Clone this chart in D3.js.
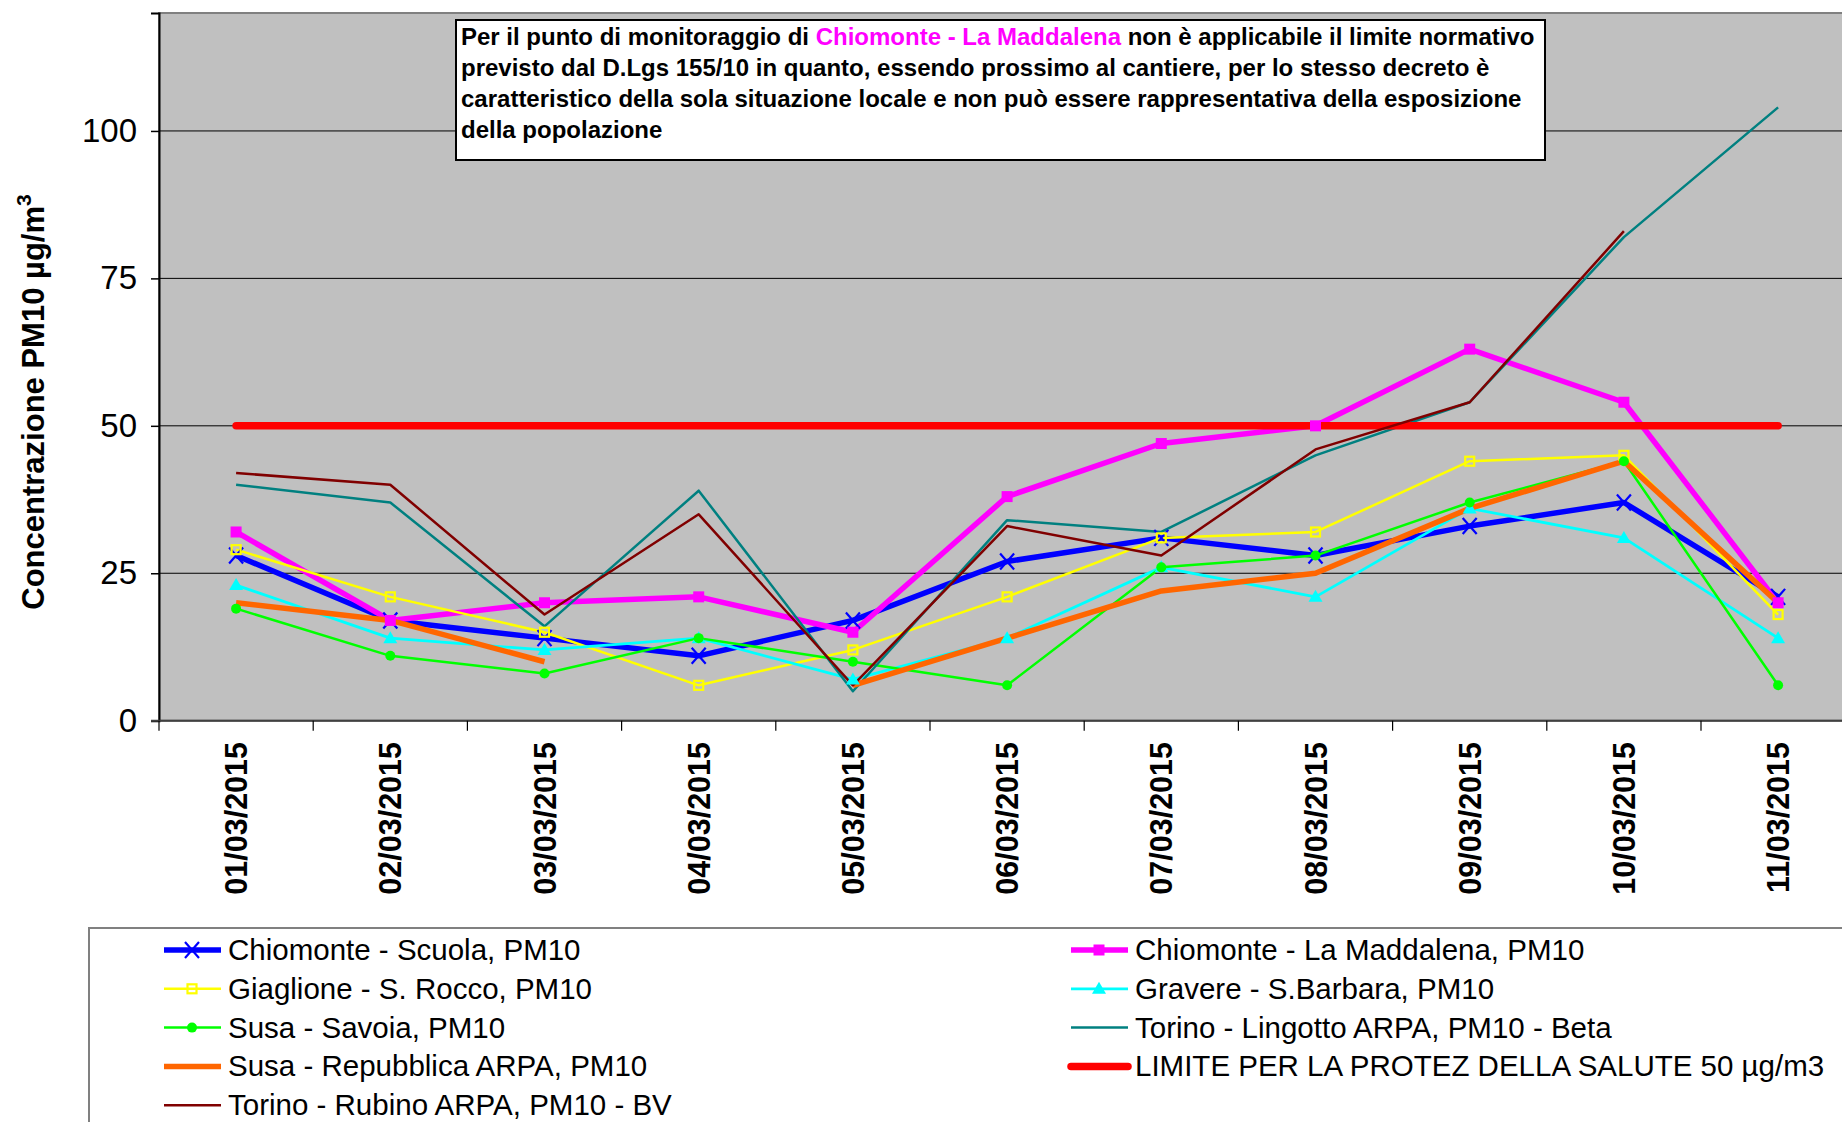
<!DOCTYPE html>
<html>
<head>
<meta charset="utf-8">
<script src="https://cdn.jsdelivr.net/npm/d3@7"></script>
<style>
  body { margin: 0; background: #fff; }
  svg { display: block; font-family: "Liberation Sans", Arial, sans-serif; }
</style>
</head>
<body>
<svg id="chart" width="1842" height="1122"></svg>
<script>
// dates on the x axis
var dates = ['01/03/2015', '02/03/2015', '03/03/2015', '04/03/2015', '05/03/2015', '06/03/2015',
             '07/03/2015', '08/03/2015', '09/03/2015', '10/03/2015', '11/03/2015']
var yTicks = [0, 25, 50, 75, 100]

// PM10 values, µg/m3 (null = no data)
var scuola     = [28, 17, 14, 11, 17, 27, 31, 28, 33, 37, 21]
var maddalena  = [32, 17, 20, 21, 15, 38, 47, 50, 63, 54, 20]
var giaglione  = [29, 21, 15, 6, 12, 21, 31, 32, 44, 45, 18]
var gravere    = [23, 14, 12, 14, 7, 14, 26, 21, 36, 31, 14]
var savoia     = [19, 11, 8, 14, 10, 6, 26, 28, 37, 44, 6]
var lingotto   = [40, 37, 16, 39, 5, 34, 32, 45, 54, 82, 104]
var repubblica = [20, 17, 10, null, 6, 14, 22, 25, 36, 44, 20]
var limite     = [50, 50, 50, 50, 50, 50, 50, 50, 50, 50, 50]
var rubino     = [42, 40, 18, 35, 6, 33, 28, 46, 54, 83, null]

var series = [
    { name: 'Chiomonte - Scuola, PM10', values: scuola, color: '#0000FF', width: 5.5, marker: 'x' },
    { name: 'Chiomonte - La Maddalena, PM10', values: maddalena, color: '#FF00FF', width: 5.5, marker: 'square' },
    { name: 'Giaglione - S. Rocco, PM10', values: giaglione, color: '#FFFF00', width: 2.5, marker: 'open' },
    { name: 'Gravere - S.Barbara, PM10', values: gravere, color: '#00FFFF', width: 2.8, marker: 'triangle' },
    { name: 'Susa - Savoia, PM10', values: savoia, color: '#00FF00', width: 2.5, marker: 'circle' },
    { name: 'Torino - Lingotto ARPA, PM10 - Beta', values: lingotto, color: '#008080', width: 2.5, marker: null },
    { name: 'Susa - Repubblica ARPA, PM10', values: repubblica, color: '#FF6600', width: 5.5, marker: null },
    { name: 'LIMITE PER LA PROTEZ DELLA SALUTE 50 µg/m3', values: limite, color: '#FF0000', width: 7.5, marker: null },
    { name: 'Torino - Rubino ARPA, PM10 - BV', values: rubino, color: '#800000', width: 2.5, marker: null }
]

var svg = d3.select('#chart')
var plotLeft = 159, plotTop = 13, plotBottom = 720.7, band = 154.2

var x = d3.scaleBand().domain(dates).range([plotLeft, plotLeft + band * dates.length])
var y = d3.scaleLinear().domain([0, 120]).range([plotBottom, plotTop])
var cx = function(d) { return x(d) + x.bandwidth() / 2 }

// plot area
svg.append('rect')
    .attr('x', plotLeft).attr('y', plotTop)
    .attr('width', band * dates.length).attr('height', plotBottom - plotTop)
    .attr('fill', '#C0C0C0')
    .attr('stroke', '#808080')
    .attr('stroke-width', 2)

// grid lines
svg.append('g').selectAll('line')
    .data(yTicks.filter(function(t) { return t > 0 }))
    .enter().append('line')
    .attr('x1', plotLeft).attr('x2', 1842)
    .attr('y1', function(d) { return y(d) }).attr('y2', function(d) { return y(d) })
    .attr('stroke', '#000').attr('stroke-width', 1)

// y axis
var yAxis = svg.append('g')
    .attr('transform', 'translate(' + plotLeft + ',0)')
    .call(d3.axisLeft(y).tickValues(yTicks).tickSize(8).tickPadding(14))
yAxis.select('.domain').attr('stroke', '#000').attr('stroke-width', 2)
yAxis.selectAll('.tick line').attr('stroke', '#000').attr('stroke-width', 1.5)
yAxis.selectAll('.tick text')
    .attr('font-size', 33).attr('fill', '#000')
    .attr('font-family', '"Liberation Sans", Arial, sans-serif')

// x axis: baseline, boundary ticks, rotated labels
svg.append('line')
    .attr('x1', plotLeft - 8).attr('x2', 1842)
    .attr('y1', plotBottom).attr('y2', plotBottom)
    .attr('stroke', '#404040').attr('stroke-width', 2)
svg.append('g').selectAll('line')
    .data(dates)
    .enter().append('line')
    .attr('x1', function(d) { return x(d) }).attr('x2', function(d) { return x(d) })
    .attr('y1', plotBottom).attr('y2', plotBottom + 10)
    .attr('stroke', '#000').attr('stroke-width', 1.2)
svg.append('g').selectAll('text')
    .data(dates)
    .enter().append('text')
    .attr('transform', function(d) { return 'translate(' + (cx(d) + 11) + ',742) rotate(-90)' })
    .attr('text-anchor', 'end')
    .attr('font-size', 30.5).attr('font-weight', 'bold')
    .text(function(d) { return d })

// y axis title
var yt = svg.append('text')
    .attr('transform', 'translate(44,402) rotate(-90)')
    .attr('text-anchor', 'middle')
    .attr('font-size', 31).attr('font-weight', 'bold')
yt.append('tspan').text('Concentrazione PM10 µg/m')
yt.append('tspan').attr('font-size', 21).attr('dy', -13).text('3')

// lines
var line = d3.line()
    .defined(function(d) { return d.v != null })
    .x(function(d) { return cx(d.date) })
    .y(function(d) { return y(d.v) })

function pts(s) {
    return s.values.map(function(v, i) { return { date: dates[i], v: v } })
}

svg.append('g').selectAll('path')
    .data(series)
    .enter().append('path')
    .attr('d', function(s) { return line(pts(s)) })
    .attr('fill', 'none')
    .attr('stroke', function(s) { return s.color })
    .attr('stroke-width', function(s) { return s.width })
    .attr('stroke-linejoin', 'round')
    .attr('stroke-linecap', function(s) { return s.name.indexOf('LIMITE') === 0 ? 'round' : 'butt' })

function drawMarker(g, type, color, px, py) {
    if (type === 'x') {
        g.append('path')
            .attr('d', 'M' + (px - 7) + ',' + (py - 8) + 'L' + (px + 7) + ',' + (py + 8) +
                       'M' + (px + 7) + ',' + (py - 8) + 'L' + (px - 7) + ',' + (py + 8))
            .attr('stroke', color).attr('stroke-width', 2.2).attr('fill', 'none')
    } else if (type === 'square') {
        g.append('rect').attr('x', px - 5.5).attr('y', py - 5.5).attr('width', 11).attr('height', 11)
            .attr('fill', color)
    } else if (type === 'open') {
        g.append('rect').attr('x', px - 4.5).attr('y', py - 4.5).attr('width', 9).attr('height', 9)
            .attr('fill', 'none').attr('stroke', color).attr('stroke-width', 2.2)
    } else if (type === 'triangle') {
        g.append('path')
            .attr('d', 'M' + px + ',' + (py - 7) + 'L' + (px + 7) + ',' + (py + 5) + 'L' + (px - 7) + ',' + (py + 5) + 'Z')
            .attr('fill', color)
    } else if (type === 'circle') {
        g.append('circle').attr('cx', px).attr('cy', py).attr('r', 5).attr('fill', color)
    }
}

// markers on top of all lines
var mk = svg.append('g')
series.forEach(function(s) {
    if (!s.marker) return
    pts(s).forEach(function(d) {
        if (d.v == null) return
        drawMarker(mk, s.marker, s.color, cx(d.date), y(d.v))
    })
})

// note box
var note = svg.append('g')
note.append('rect')
    .attr('x', 456).attr('y', 20).attr('width', 1089).attr('height', 140)
    .attr('fill', '#fff').attr('stroke', '#000').attr('stroke-width', 2)
var noteLines = [
    [['Per il punto di monitoraggio di ', '#000'], ['Chiomonte - La Maddalena', '#FF00FF'], [' non è applicabile il limite normativo', '#000']],
    [['previsto dal D.Lgs 155/10 in quanto, essendo prossimo al cantiere, per lo stesso decreto è', '#000']],
    [['caratteristico della sola situazione locale e non può essere rappresentativa della esposizione', '#000']],
    [['della popolazione', '#000']]
]
noteLines.forEach(function(parts, i) {
    var t = note.append('text')
        .attr('x', 461).attr('y', 45 + i * 31)
        .attr('font-size', 24).attr('font-weight', 'bold')
    parts.forEach(function(p) { t.append('tspan').attr('fill', p[1]).text(p[0]) })
})

// legend
svg.append('rect')
    .attr('x', 89).attr('y', 928).attr('width', 1800).attr('height', 300)
    .attr('fill', '#fff').attr('stroke', '#808080').attr('stroke-width', 2)
var leg = svg.append('g')
series.forEach(function(s, i) {
    var col = i % 2, row = Math.floor(i / 2)
    var lx = col ? 1071 : 164, ly = 950 + row * 38.8
    leg.append('line')
        .attr('x1', lx).attr('x2', lx + 57).attr('y1', ly).attr('y2', ly)
        .attr('stroke', s.color).attr('stroke-width', s.width)
        .attr('stroke-linecap', s.width > 6 ? 'round' : 'butt')
    if (s.marker) drawMarker(leg, s.marker, s.color, lx + 28, ly)
    leg.append('text')
        .attr('x', lx + 64).attr('y', ly + 10)
        .attr('font-size', 29.5)
        .text(s.name)
})
</script>
</body>
</html>
